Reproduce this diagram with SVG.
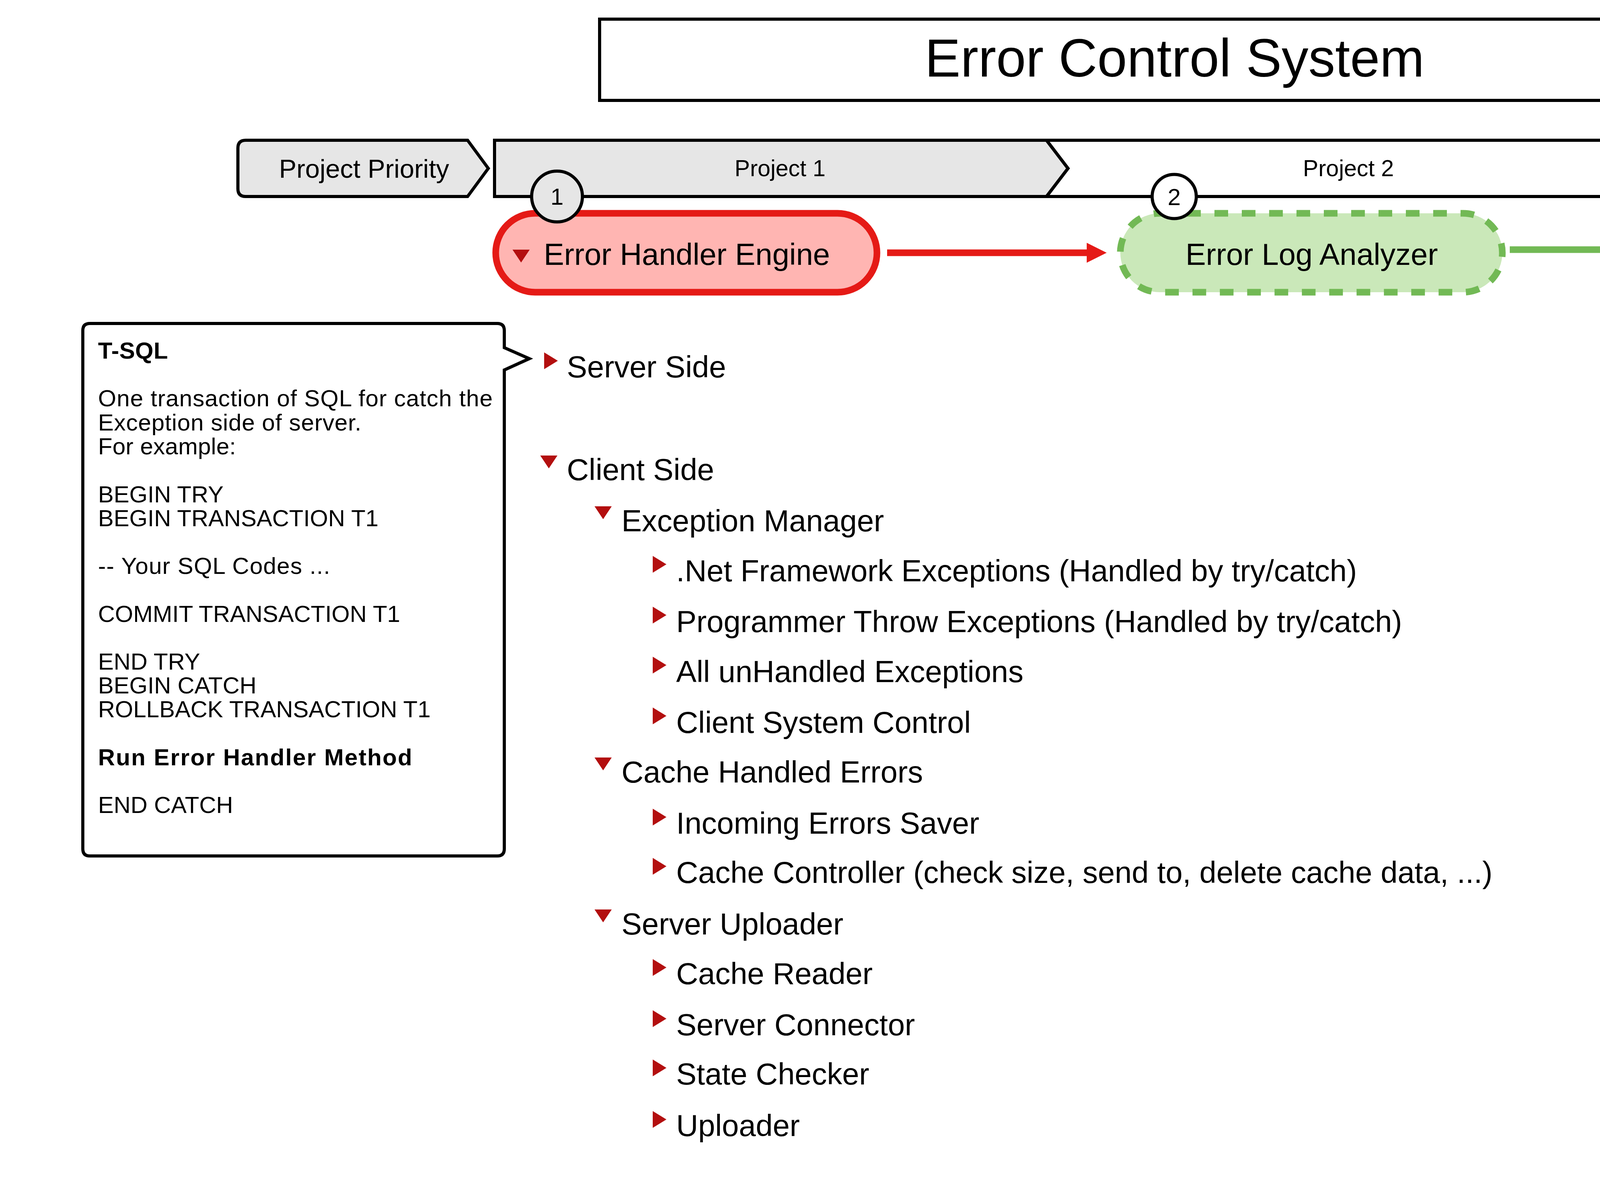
<svg xmlns="http://www.w3.org/2000/svg" xmlns:xlink="http://www.w3.org/1999/xlink" width="5689" height="3064" viewBox="0 0 5689 3064">
<style>
text{font-family:"Liberation Sans",Arial,Helvetica,sans-serif;fill:#000}
.bar{stroke:#000;stroke-width:8;stroke-linejoin:miter}
.gray{fill:#e6e6e6}
.white{fill:#fff}
.num{font-size:60px;text-anchor:middle}
.proj{font-size:59px;text-anchor:middle}
.node{font-size:78px;text-anchor:middle}
.tree{font-size:78px}
.note{font-size:60px}
.b{font-weight:bold}
.tri{fill:#b30f0f}
.conn{fill:none;stroke-width:17}
</style>
<defs>
<path id="tr" d="M0,0 L35,21.5 L0,43 Z"/>
<path id="td" d="M0,0 L44,0 L22,33 Z"/>
<marker id="ahRed" markerUnits="userSpaceOnUse" markerWidth="52" markerHeight="52" viewBox="0 -26 52 52" refX="0" refY="0" orient="auto">
<path d="M0,-25.5 L51,0 L0,25.5 Z" fill="#e51a16"/>
</marker>
<marker id="ahGreen" markerUnits="userSpaceOnUse" markerWidth="52" markerHeight="52" viewBox="0 -26 52 52" refX="0" refY="0" orient="auto">
<path d="M0,-26 L52,0 L0,26 Z" fill="#72b955"/>
</marker>
</defs>
<rect width="5689" height="3064" fill="#fff"/>

<g id="title">
<rect x="1535" y="49" width="2750" height="208" fill="#fff" stroke="#000" stroke-width="8"/>
<text x="3007" y="196" font-size="137" text-anchor="middle">Error Control System</text>
</g>

<g id="project-bar">
<g id="project3">
<path class="bar white" d="M4099,359 H5521 L5576,431 L5521,503 H4099 L4154,431 Z"/>
<text class="proj" x="4871" y="451">Project 3</text>
</g>
<g id="project2">
<path class="bar white" d="M2679,359 H4099 L4154,431 L4099,503 H2679 L2734,431 Z"/>
<text class="proj" x="3452" y="451">Project 2</text>
</g>
<g id="project1">
<path class="bar gray" d="M1266,359 H2679 L2734,431 L2679,503 H1266 Z"/>
<text class="proj" x="1997" y="451">Project 1</text>
</g>
<g id="project-priority">
<path class="bar gray" d="M629,359 H1197 L1250,431 L1197,503 H629 Q609,503 609,483 V379 Q609,359 629,359 Z"/>
<text x="932" y="455" font-size="67" text-anchor="middle">Project Priority</text>
</g>
</g>

<g id="connectors">
<path class="conn" stroke="#e51a16" d="M2271,647 H2782" marker-end="url(#ahRed)"/>
<path class="conn" stroke="#72b955" d="M3865,639 H4379" marker-end="url(#ahGreen)"/>
</g>

<g id="error-handler-engine">
<rect x="1269" y="546" width="976" height="202" rx="101" ry="101" fill="#ffb5b2" stroke="#e51a16" stroke-width="17"/>
<use xlink:href="#td" href="#td" class="tri" x="1312" y="639"/>
<text x="1392" y="678" font-size="78">Error Handler Engine</text>
</g>

<g id="error-log-analyzer">
<rect x="2868" y="546" width="978" height="202" rx="101" ry="101" fill="#cae8b9" stroke="#72b955" stroke-width="17" stroke-dasharray="35 35"/>
<text class="node" x="3358" y="678">Error Log Analyzer</text>
</g>

<g id="bug-tracker">
<rect x="4461" y="546" width="979" height="202" rx="101" ry="101" fill="#a9c8f9" stroke="#0e59cf" stroke-width="17" stroke-dasharray="35 35"/>
<text class="node" x="4950" y="678">Bug Tracker</text>
</g>

<g id="step1">
<circle cx="1426" cy="503" r="65" fill="#e6e6e6" stroke="#000" stroke-width="8"/>
<text class="num" x="1426" y="524">1</text>
</g>
<g id="step2">
<circle cx="3006" cy="503" r="56.5" fill="#fff" stroke="#000" stroke-width="8"/>
<text class="num" x="3006" y="525">2</text>
</g>
<g id="step3">
<circle cx="4586" cy="503" r="56.5" fill="#fff" stroke="#000" stroke-width="8"/>
<text class="num" x="4586" y="525">3</text>
</g>

<g id="tsql-note">
<path d="M230,828 H1273 Q1291,828 1291,846 V890 L1355,918 L1291,947 V2173 Q1291,2191 1273,2191 H230 Q212,2191 212,2173 V846 Q212,828 230,828 Z" fill="#fff" stroke="#000" stroke-width="8" stroke-linejoin="miter"/>
<text class="note b" x="251" y="918" textLength="179" lengthAdjust="spacing">T-SQL</text>
<text class="note" x="251" y="1040" textLength="1010" lengthAdjust="spacing">One transaction of SQL for catch the</text>
<text class="note" x="251" y="1102" textLength="674" lengthAdjust="spacing">Exception side of server.</text>
<text class="note" x="251" y="1163" textLength="353" lengthAdjust="spacing">For example:</text>
<text class="note" x="251" y="1286">BEGIN TRY</text>
<text class="note" x="251" y="1347">BEGIN TRANSACTION T1</text>
<text class="note" x="251" y="1469" textLength="594" lengthAdjust="spacing">-- Your SQL Codes ...</text>
<text class="note" x="251" y="1592">COMMIT TRANSACTION T1</text>
<text class="note" x="251" y="1714">END TRY</text>
<text class="note" x="251" y="1775">BEGIN CATCH</text>
<text class="note" x="251" y="1836">ROLLBACK TRANSACTION T1</text>
<text class="note b" x="251" y="1959" textLength="804" lengthAdjust="spacing">Run Error Handler Method</text>
<text class="note" x="251" y="2081">END CATCH</text>
</g>

<g id="server-side">
<use xlink:href="#tr" href="#tr" class="tri" x="1393" y="902"/>
<text class="tree" x="1451" y="966">Server Side</text>
</g>
<g id="client-side">
<use xlink:href="#td" href="#td" class="tri" x="1383" y="1166"/>
<text class="tree" x="1451" y="1229">Client Side</text>
</g>
<g id="exception-manager">
<use xlink:href="#td" href="#td" class="tri" x="1522" y="1296"/>
<text class="tree" x="1591" y="1360">Exception Manager</text>
</g>
<g id="net-exceptions">
<use xlink:href="#tr" href="#tr" class="tri" x="1671" y="1423"/>
<text class="tree" x="1731" y="1488">.Net Framework Exceptions (Handled by try/catch)</text>
</g>
<g id="programmer-exceptions">
<use xlink:href="#tr" href="#tr" class="tri" x="1671" y="1553"/>
<text class="tree" x="1731" y="1618">Programmer Throw Exceptions (Handled by try/catch)</text>
</g>
<g id="unhandled-exceptions">
<use xlink:href="#tr" href="#tr" class="tri" x="1671" y="1681"/>
<text class="tree" x="1731" y="1746">All unHandled Exceptions</text>
</g>
<g id="client-system-control">
<use xlink:href="#tr" href="#tr" class="tri" x="1671" y="1811"/>
<text class="tree" x="1731" y="1876">Client System Control</text>
</g>
<g id="cache-handled-errors">
<use xlink:href="#td" href="#td" class="tri" x="1522" y="1939"/>
<text class="tree" x="1591" y="2003">Cache Handled Errors</text>
</g>
<g id="incoming-errors-saver">
<use xlink:href="#tr" href="#tr" class="tri" x="1671" y="2070"/>
<text class="tree" x="1731" y="2134">Incoming Errors Saver</text>
</g>
<g id="cache-controller">
<use xlink:href="#tr" href="#tr" class="tri" x="1671" y="2196"/>
<text class="tree" x="1731" y="2260">Cache Controller (check size, send to, delete cache data, ...)</text>
</g>
<g id="server-uploader">
<use xlink:href="#td" href="#td" class="tri" x="1522" y="2328"/>
<text class="tree" x="1591" y="2392">Server Uploader</text>
</g>
<g id="cache-reader">
<use xlink:href="#tr" href="#tr" class="tri" x="1671" y="2455"/>
<text class="tree" x="1731" y="2519">Cache Reader</text>
</g>
<g id="server-connector">
<use xlink:href="#tr" href="#tr" class="tri" x="1671" y="2586"/>
<text class="tree" x="1731" y="2650">Server Connector</text>
</g>
<g id="state-checker">
<use xlink:href="#tr" href="#tr" class="tri" x="1671" y="2712"/>
<text class="tree" x="1731" y="2776">State Checker</text>
</g>
<g id="uploader">
<use xlink:href="#tr" href="#tr" class="tri" x="1671" y="2844"/>
<text class="tree" x="1731" y="2908">Uploader</text>
</g>
</svg>
